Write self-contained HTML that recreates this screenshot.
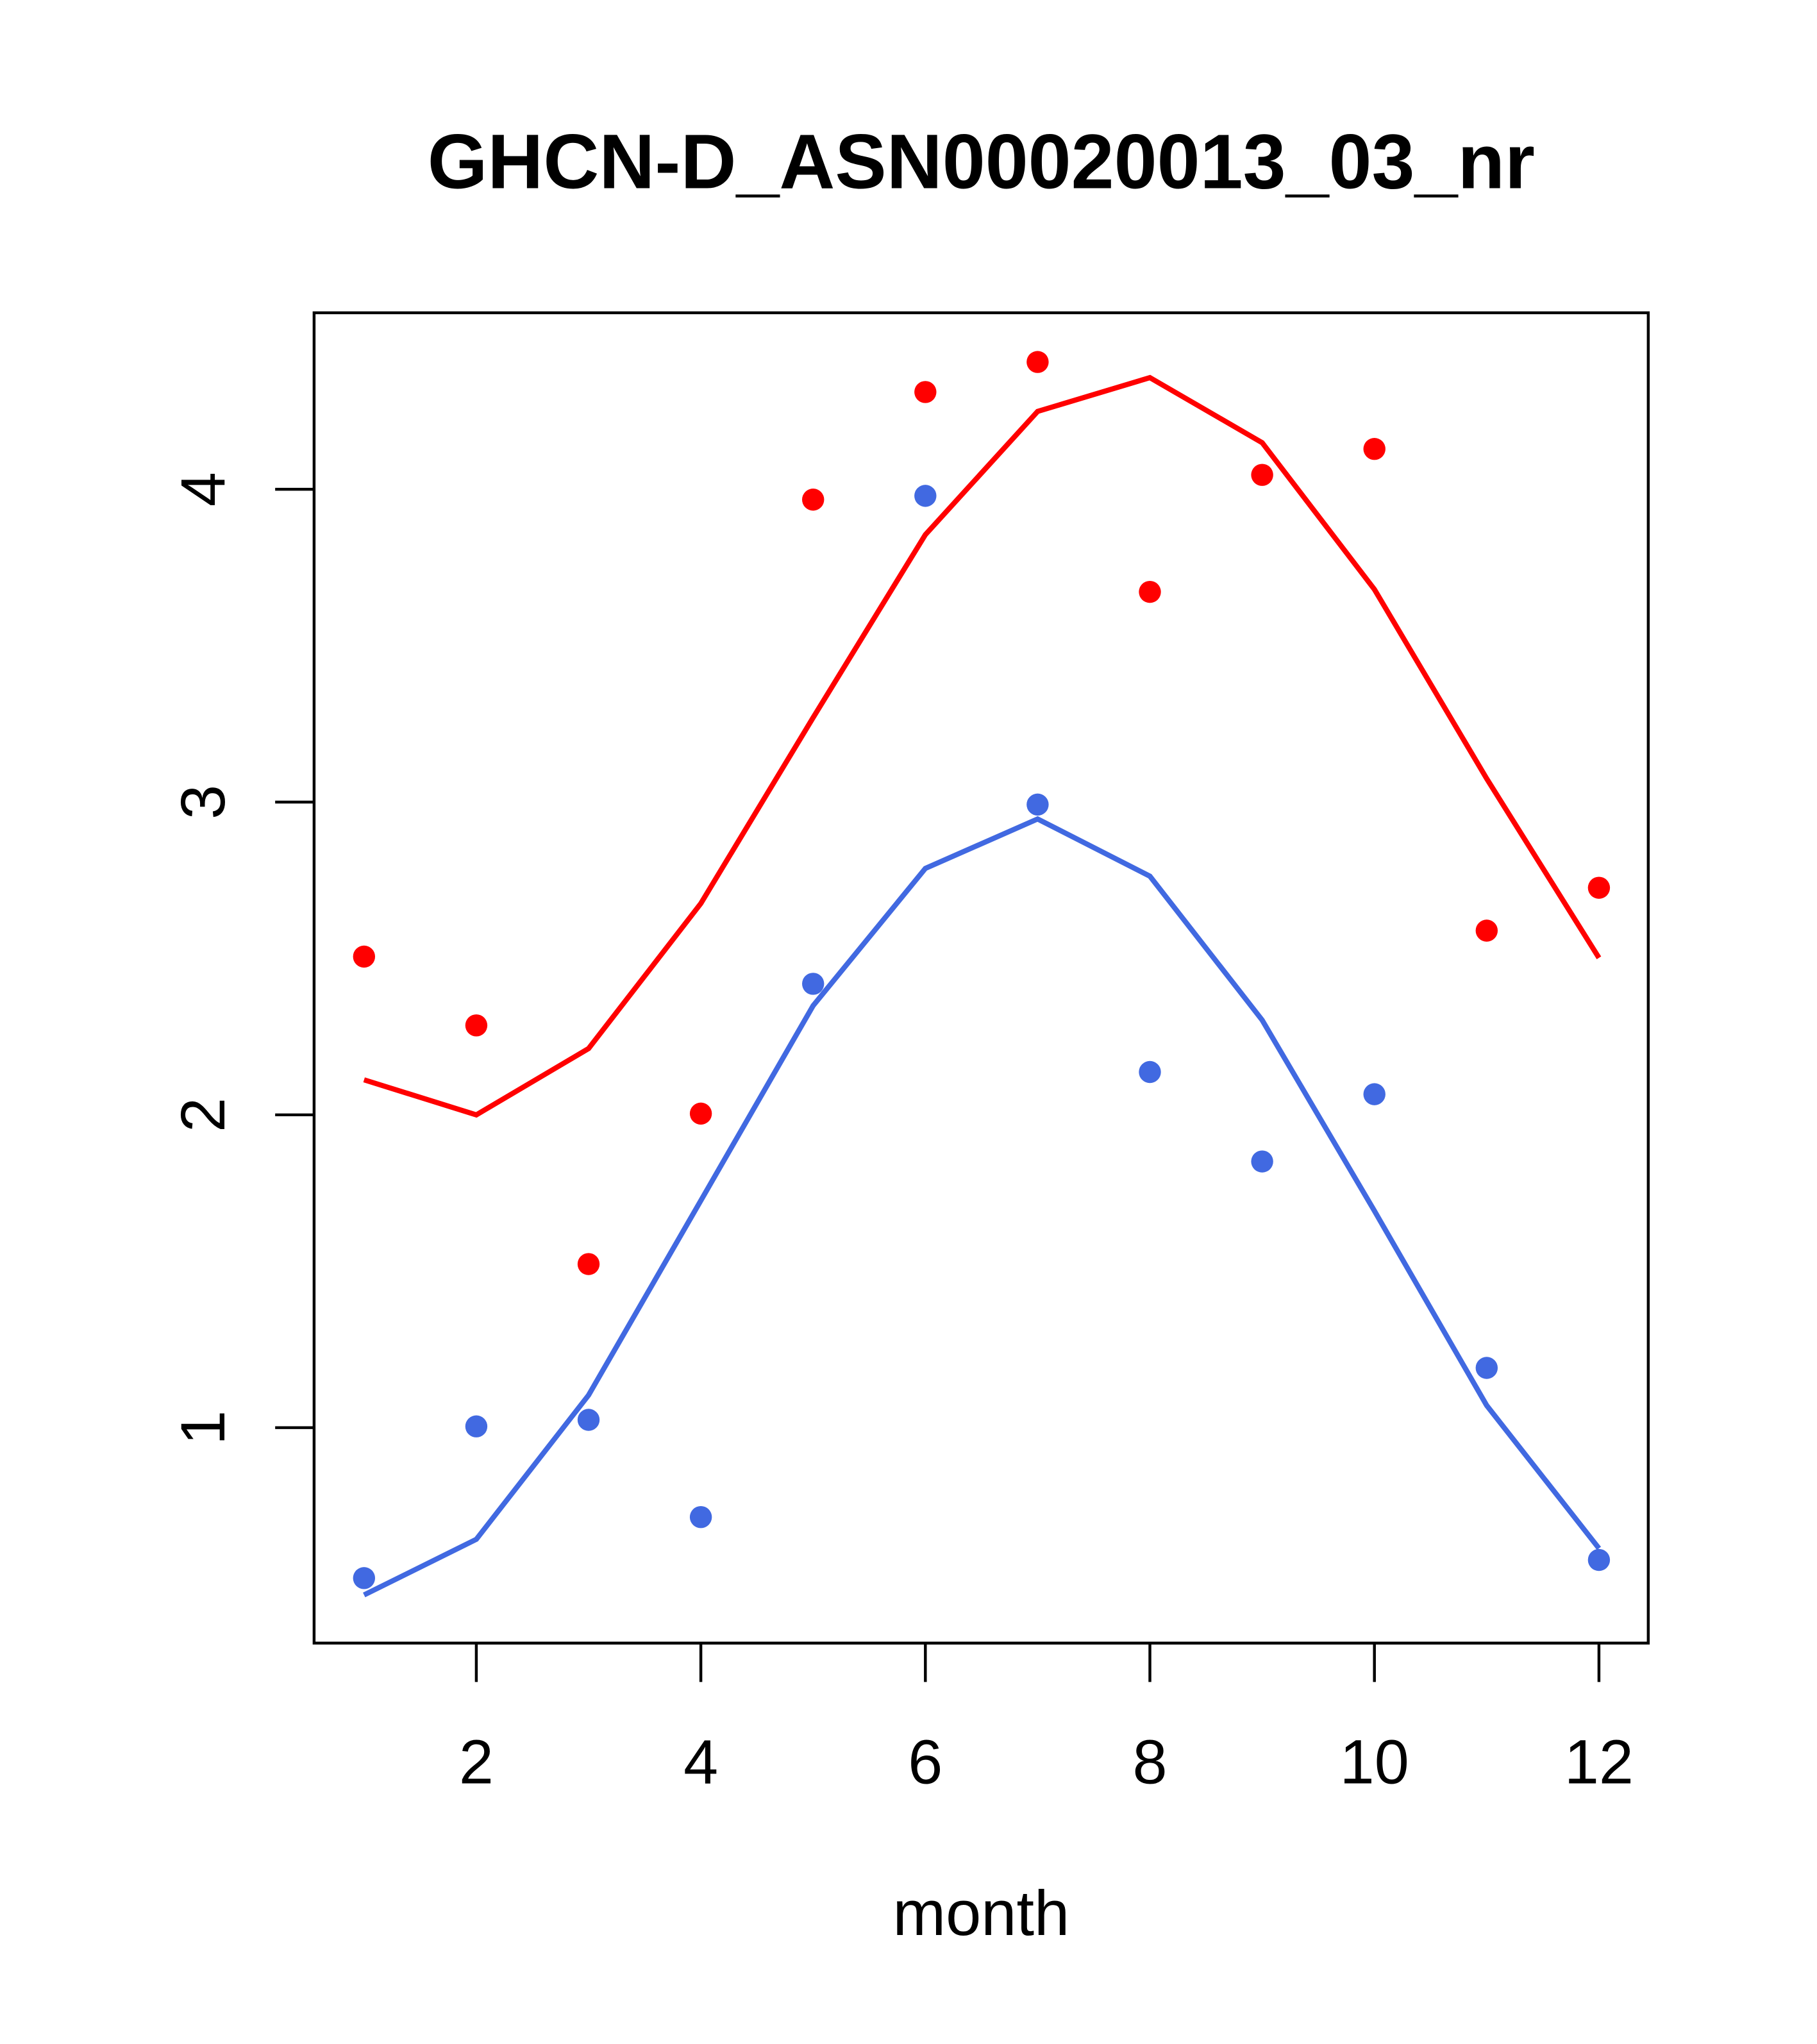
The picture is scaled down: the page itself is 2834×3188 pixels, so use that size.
<!DOCTYPE html>
<html><head><meta charset="utf-8"><style>html,body{margin:0;padding:0;background:#fff}svg{display:block}</style></head>
<body>
<svg id="chart" width="2834" height="3188" viewBox="0 0 1400 1574.9" xmlns="http://www.w3.org/2000/svg" font-family="'Liberation Sans', Arial, sans-serif">
<rect width="1400" height="1575" fill="#fff"/>
<text x="756" y="145" text-anchor="middle" font-size="59.5" font-weight="bold">GHCN-D_ASN00020013_03_nr</text>
<rect x="242" y="241" width="1028" height="1025" fill="none" stroke="#000" stroke-width="2.2"/>
<text x="756" y="1491" text-anchor="middle" font-size="49">month</text>
<g id="xaxis"></g>
<g id="yaxis"></g>
<g id="series"></g>
</svg>
<script>
const months=[1,2,3,4,5,6,7,8,9,10,11,12];
const redPoints=[2.506,2.286,1.523,2.004,3.967,4.311,4.407,3.672,4.046,4.129,2.589,2.726];
const redLine=[2.112,2.0,2.212,2.676,3.270,3.855,4.249,4.357,4.149,3.680,3.075,2.502];
const bluePoints=[0.519,1.004,1.025,0.714,2.419,3.979,2.992,2.137,1.851,2.066,1.191,0.577];
const blueLine=[0.465,0.643,1.104,1.726,2.349,2.788,2.946,2.763,2.303,1.693,1.071,0.614];
const xTicks=[2,4,6,8,10,12];
const yTicks=[1,2,3,4];
const NS="http://www.w3.org/2000/svg";
function sx(m){return 280.5+(m-1)*86.5;}
function sy(v){return 377+(4-v)*241;}
function mk(tag,attrs,parent){const e=document.createElementNS(NS,tag);for(const k in attrs)e.setAttribute(k,attrs[k]);parent.appendChild(e);return e;}
const xa=document.getElementById('xaxis'),ya=document.getElementById('yaxis'),sg=document.getElementById('series');
mk('line',{x1:sx(xTicks[0]),x2:sx(xTicks[xTicks.length-1]),y1:1266,y2:1266,stroke:'#000','stroke-width':2.2},xa);
xTicks.forEach(t=>{
  const l=mk('line',{x1:sx(t),x2:sx(t),y1:1266,y2:1296,stroke:'#000','stroke-width':2.2},xa);
  
  
  const tx=mk('text',{x:sx(t),y:1374,'text-anchor':'middle','font-size':48},xa);tx.textContent=t;
  
  
});
yTicks.forEach(t=>{
  const l=mk('line',{x1:212,x2:242,y1:sy(t),y2:sy(t),stroke:'#000','stroke-width':2.2},ya);
  
  
  const tx=mk('text',{x:0,y:0,'text-anchor':'middle','font-size':48,transform:`translate(173,${sy(t)}) rotate(-90)`},ya);tx.textContent=t;
  
  
});
function drawLine(vals,color,name){
  const p=mk('polyline',{points:vals.map((v,i)=>sx(months[i])+','+sy(v)).join(' '),fill:'none',stroke:color,'stroke-width':4},sg);
  
  
}
function drawPts(vals,color,name){
  vals.forEach((v,i)=>{
    const c=mk('circle',{cx:sx(months[i]),cy:sy(v),r:8.5,fill:color},sg);
    
    
  });
}
drawLine(redLine,'#ff0000','red-line');
drawLine(blueLine,'#4169e1','blue-line');
drawPts(redPoints,'#ff0000','red-point');
drawPts(bluePoints,'#4169e1','blue-point');
</script>
</body></html>
